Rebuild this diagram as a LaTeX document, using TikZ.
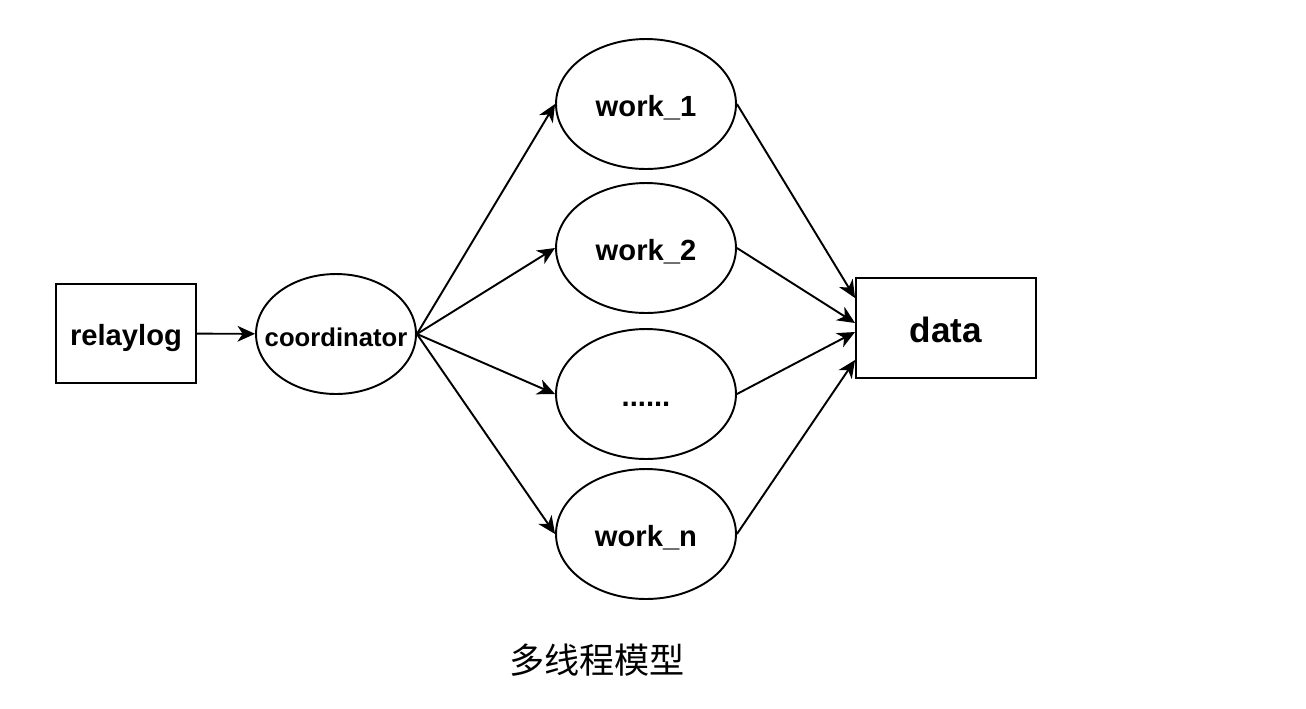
\documentclass[tikz,border=0pt]{standalone}
\usepackage{fontspec}
\setmainfont{Liberation Sans}
\newfontfamily\cjk{Noto Sans CJK SC}
\usetikzlibrary{calc}
\usetikzlibrary{positioning}
\usetikzlibrary{shapes.geometric}
\usetikzlibrary{arrows.meta}

\begin{document}
\begin{tikzpicture}[x=0.02cm, y=-0.02cm]
    \tikzstyle{box}=[draw, line width=1.1pt, inner sep=0pt, text height=0.5cm, text depth=0.02cm,
      font=\bfseries\fontsize{16.6}{18}\selectfont]
    \tikzstyle{worker}=[draw, ellipse, line width=1.1pt, inner sep=0pt, text height=0.5cm, text depth=0.02cm,
      minimum width=3.6cm, minimum height=2.6cm, font=\bfseries\fontsize{16.6}{18}\selectfont]
    \tikzstyle{flow}=[line width=1.1pt, -{Stealth[length=10pt, width=9pt, inset=3pt]}]

    \useasboundingbox (0, 0) rectangle (1306, 708);

    % Input and coordinator
    \node[box, minimum width=2.8cm, minimum height=1.98cm] (relaylog) at (126, 333.5) {relaylog};
    \node[worker, inner xsep=-0.3cm, minimum width=3.2cm, minimum height=2.4cm,
      font=\bfseries\fontsize{14.6}{16}\selectfont] (coord) at (336, 334) {coordinator};
    \draw[flow] (relaylog) -- (coord);

    % Worker threads
    \node[worker] (w1) at (646, 104) {work\_1};
    \node[worker] (w2) at (646, 248) {work\_2};
    \node[worker] (w3) at (646, 394) {......};
    \node[worker] (wn) at (646, 534) {work\_n};

    % Output
    \node[box, minimum width=3.6cm, minimum height=2cm, text height=0.58cm,
      font=\bfseries\fontsize{20}{22}\selectfont] (data) at (946, 328) {data};

    \foreach \w in {w1, w2, w3, wn} {
      \draw[flow] (coord.east) -- (\w.west);
    }
    \draw[flow] (w1.east) -- ([yshift=0.6cm]data.west);
    \draw[flow] (w2.east) -- ([yshift=0.1cm]data.west);
    \draw[flow] (w3.east) -- ([yshift=-0.08cm]data.west);
    \draw[flow] (wn.east) -- ([yshift=-0.64cm]data.west);

    \node[font=\cjk\fontsize{20}{22}\selectfont] (title) at (597, 660) {多线程模型};
\end{tikzpicture}
\end{document}
